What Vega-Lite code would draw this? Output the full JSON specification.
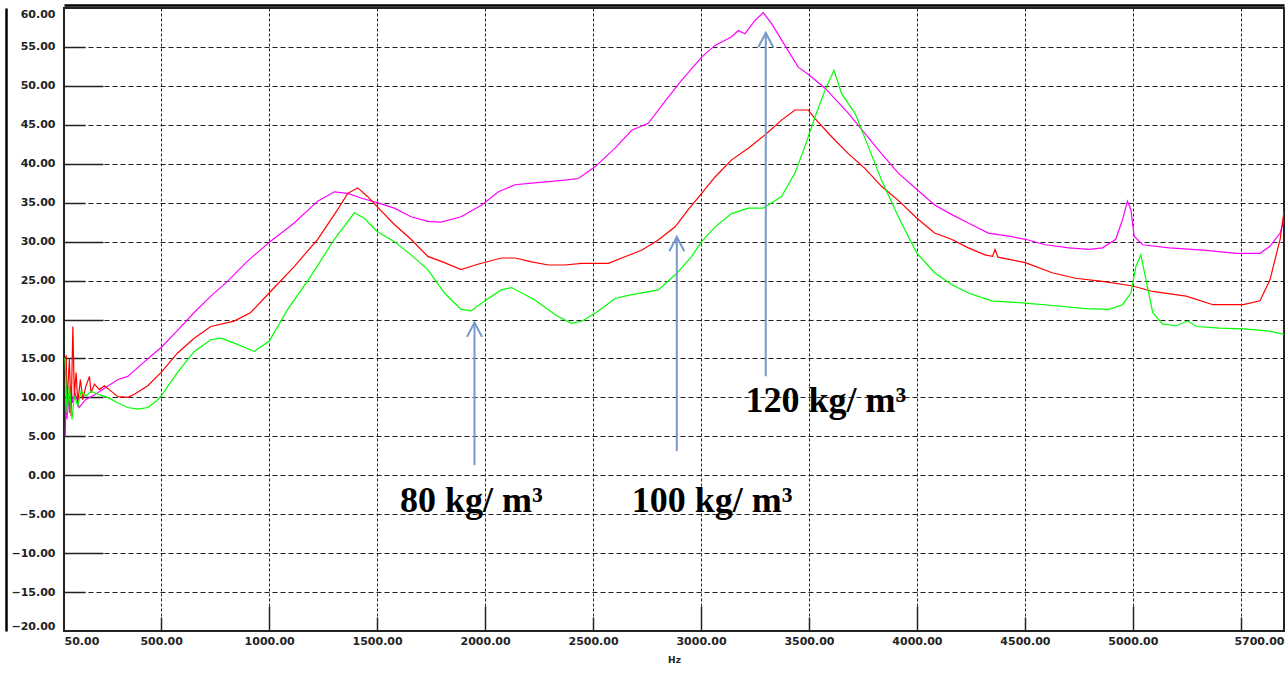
{
  "$schema": "https://vega.github.io/schema/vega-lite/v6.json",
  "width": 1220,
  "height": 623,
  "autosize": "none",
  "padding": {"left": 64, "top": 8, "right": 4, "bottom": 49},
  "background": "white",
  "config": {"view": {"stroke": "#222222", "strokeWidth": 2}, "font": "DejaVu Sans"},
  "resolve": {"axis": {"x": "independent", "y": "independent"}},
  "datasets": {
    "curves": [
      {"f":56,"v":5,"s":"120"},{"f":60,"v":11.5,"s":"120"},{"f":64,"v":7.2,"s":"120"},{"f":70,"v":10.6,"s":"120"},{"f":75,"v":8,"s":"120"},{"f":82,"v":11.5,"s":"120"},{"f":90,"v":9.3,"s":"120"},{"f":100,"v":10.6,"s":"120"},{"f":120,"v":8.7,"s":"120"},{"f":150,"v":9.7,"s":"120"},{"f":190,"v":10.3,"s":"120"},{"f":240,"v":11.2,"s":"120"},{"f":300,"v":12.3,"s":"120"},{"f":346,"v":12.7,"s":"120"},{"f":407,"v":14.2,"s":"120"},{"f":469,"v":15.7,"s":"120"},{"f":500,"v":16.4,"s":"120"},{"f":576,"v":18.6,"s":"120"},{"f":653,"v":20.9,"s":"120"},{"f":730,"v":23,"s":"120"},{"f":807,"v":24.9,"s":"120"},{"f":900,"v":27.5,"s":"120"},{"f":1000,"v":29.9,"s":"120"},{"f":1116,"v":32.4,"s":"120"},{"f":1225,"v":35.2,"s":"120"},{"f":1302,"v":36.4,"s":"120"},{"f":1364,"v":36.2,"s":"120"},{"f":1425,"v":35.6,"s":"120"},{"f":1500,"v":35,"s":"120"},{"f":1580,"v":34.3,"s":"120"},{"f":1657,"v":33.2,"s":"120"},{"f":1735,"v":32.6,"s":"120"},{"f":1796,"v":32.5,"s":"120"},{"f":1889,"v":33.2,"s":"120"},{"f":1985,"v":34.7,"s":"120"},{"f":2062,"v":36.4,"s":"120"},{"f":2139,"v":37.3,"s":"120"},{"f":2216,"v":37.5,"s":"120"},{"f":2293,"v":37.7,"s":"120"},{"f":2370,"v":37.9,"s":"120"},{"f":2432,"v":38.1,"s":"120"},{"f":2509,"v":39.6,"s":"120"},{"f":2602,"v":42,"s":"120"},{"f":2679,"v":44.3,"s":"120"},{"f":2756,"v":45.2,"s":"120"},{"f":2833,"v":48,"s":"120"},{"f":2910,"v":50.7,"s":"120"},{"f":3003,"v":53.7,"s":"120"},{"f":3065,"v":55.2,"s":"120"},{"f":3142,"v":56.3,"s":"120"},{"f":3173,"v":57.1,"s":"120"},{"f":3204,"v":56.7,"s":"120"},{"f":3250,"v":58.4,"s":"120"},{"f":3288,"v":59.4,"s":"120"},{"f":3327,"v":58,"s":"120"},{"f":3373,"v":55.9,"s":"120"},{"f":3450,"v":52.4,"s":"120"},{"f":3501,"v":51.4,"s":"120"},{"f":3574,"v":49.7,"s":"120"},{"f":3682,"v":46.5,"s":"120"},{"f":3759,"v":43.9,"s":"120"},{"f":3836,"v":41.3,"s":"120"},{"f":3914,"v":38.8,"s":"120"},{"f":4000,"v":36.7,"s":"120"},{"f":4082,"v":34.7,"s":"120"},{"f":4160,"v":33.5,"s":"120"},{"f":4238,"v":32.4,"s":"120"},{"f":4331,"v":31.1,"s":"120"},{"f":4424,"v":30.7,"s":"120"},{"f":4502,"v":30.3,"s":"120"},{"f":4595,"v":29.6,"s":"120"},{"f":4703,"v":29.2,"s":"120"},{"f":4797,"v":29,"s":"120"},{"f":4859,"v":29.2,"s":"120"},{"f":4921,"v":30.3,"s":"120"},{"f":4952,"v":32.8,"s":"120"},{"f":4975,"v":35.2,"s":"120"},{"f":4991,"v":34.1,"s":"120"},{"f":5006,"v":30.7,"s":"120"},{"f":5045,"v":29.6,"s":"120"},{"f":5169,"v":29.2,"s":"120"},{"f":5325,"v":28.9,"s":"120"},{"f":5480,"v":28.5,"s":"120"},{"f":5589,"v":28.5,"s":"120"},{"f":5635,"v":29.4,"s":"120"},{"f":5682,"v":31.1,"s":"120"},{"f":5700,"v":32.8,"s":"120"},

      {"f":52,"v":15,"s":"100"},{"f":60,"v":15.3,"s":"100"},{"f":64,"v":9.3,"s":"100"},{"f":75,"v":14.9,"s":"100"},{"f":83,"v":7.6,"s":"100"},{"f":91,"v":19.1,"s":"100"},{"f":98,"v":10.2,"s":"100"},{"f":106,"v":13.2,"s":"100"},{"f":114,"v":9.3,"s":"100"},{"f":126,"v":12.3,"s":"100"},{"f":137,"v":9.7,"s":"100"},{"f":152,"v":11.5,"s":"100"},{"f":168,"v":12.7,"s":"100"},{"f":175,"v":10.6,"s":"100"},{"f":191,"v":11.7,"s":"100"},{"f":214,"v":11,"s":"100"},{"f":237,"v":11.5,"s":"100"},{"f":268,"v":10.8,"s":"100"},{"f":299,"v":10.1,"s":"100"},{"f":346,"v":10,"s":"100"},{"f":376,"v":10.4,"s":"100"},{"f":438,"v":11.5,"s":"100"},{"f":500,"v":13.2,"s":"100"},{"f":576,"v":15.7,"s":"100"},{"f":653,"v":17.6,"s":"100"},{"f":730,"v":19.1,"s":"100"},{"f":838,"v":19.8,"s":"100"},{"f":915,"v":20.9,"s":"100"},{"f":1000,"v":23.4,"s":"100"},{"f":1116,"v":26.8,"s":"100"},{"f":1225,"v":30.3,"s":"100"},{"f":1317,"v":34.1,"s":"100"},{"f":1364,"v":36.2,"s":"100"},{"f":1410,"v":36.9,"s":"100"},{"f":1456,"v":35.8,"s":"100"},{"f":1500,"v":34.5,"s":"100"},{"f":1580,"v":32.2,"s":"100"},{"f":1657,"v":30.3,"s":"100"},{"f":1735,"v":28.1,"s":"100"},{"f":1812,"v":27.3,"s":"100"},{"f":1889,"v":26.4,"s":"100"},{"f":1966,"v":27.1,"s":"100"},{"f":2075,"v":27.9,"s":"100"},{"f":2139,"v":27.9,"s":"100"},{"f":2216,"v":27.4,"s":"100"},{"f":2293,"v":27,"s":"100"},{"f":2370,"v":27,"s":"100"},{"f":2447,"v":27.2,"s":"100"},{"f":2571,"v":27.2,"s":"100"},{"f":2633,"v":27.9,"s":"100"},{"f":2725,"v":28.9,"s":"100"},{"f":2802,"v":30.2,"s":"100"},{"f":2880,"v":31.9,"s":"100"},{"f":2941,"v":34.1,"s":"100"},{"f":3003,"v":36.2,"s":"100"},{"f":3065,"v":38.3,"s":"100"},{"f":3142,"v":40.5,"s":"100"},{"f":3219,"v":42,"s":"100"},{"f":3296,"v":43.7,"s":"100"},{"f":3373,"v":45.6,"s":"100"},{"f":3435,"v":46.9,"s":"100"},{"f":3497,"v":46.9,"s":"100"},{"f":3528,"v":45.8,"s":"100"},{"f":3604,"v":43.5,"s":"100"},{"f":3682,"v":41.3,"s":"100"},{"f":3759,"v":39.4,"s":"100"},{"f":3836,"v":37.1,"s":"100"},{"f":3914,"v":35.3,"s":"100"},{"f":4000,"v":33,"s":"100"},{"f":4082,"v":31.1,"s":"100"},{"f":4160,"v":30.3,"s":"100"},{"f":4238,"v":29.2,"s":"100"},{"f":4315,"v":28.3,"s":"100"},{"f":4350,"v":28.1,"s":"100"},{"f":4362,"v":29,"s":"100"},{"f":4375,"v":28,"s":"100"},{"f":4502,"v":27.3,"s":"100"},{"f":4626,"v":26,"s":"100"},{"f":4735,"v":25.3,"s":"100"},{"f":4859,"v":24.9,"s":"100"},{"f":5000,"v":24.3,"s":"100"},{"f":5092,"v":23.6,"s":"100"},{"f":5247,"v":23,"s":"100"},{"f":5371,"v":21.9,"s":"100"},{"f":5511,"v":21.9,"s":"100"},{"f":5589,"v":22.4,"s":"100"},{"f":5635,"v":25.1,"s":"100"},{"f":5682,"v":30.3,"s":"100"},{"f":5700,"v":33.9,"s":"100"},

      {"f":50,"v":15,"s":"80"},{"f":55,"v":14.9,"s":"80"},{"f":64,"v":8,"s":"80"},{"f":75,"v":11.5,"s":"80"},{"f":87,"v":7.2,"s":"80"},{"f":98,"v":10.2,"s":"80"},{"f":114,"v":8.9,"s":"80"},{"f":129,"v":10.8,"s":"80"},{"f":152,"v":10.2,"s":"80"},{"f":175,"v":10.8,"s":"80"},{"f":206,"v":10.4,"s":"80"},{"f":252,"v":10,"s":"80"},{"f":299,"v":9.3,"s":"80"},{"f":346,"v":8.7,"s":"80"},{"f":392,"v":8.5,"s":"80"},{"f":438,"v":8.7,"s":"80"},{"f":477,"v":9.5,"s":"80"},{"f":500,"v":10.2,"s":"80"},{"f":576,"v":13.2,"s":"80"},{"f":653,"v":15.9,"s":"80"},{"f":730,"v":17.4,"s":"80"},{"f":777,"v":17.6,"s":"80"},{"f":854,"v":16.8,"s":"80"},{"f":931,"v":15.9,"s":"80"},{"f":1000,"v":17.2,"s":"80"},{"f":1086,"v":21.3,"s":"80"},{"f":1194,"v":25.6,"s":"80"},{"f":1302,"v":30.3,"s":"80"},{"f":1395,"v":33.7,"s":"80"},{"f":1441,"v":33,"s":"80"},{"f":1500,"v":31.3,"s":"80"},{"f":1580,"v":30,"s":"80"},{"f":1657,"v":28.3,"s":"80"},{"f":1735,"v":26.4,"s":"80"},{"f":1812,"v":23.4,"s":"80"},{"f":1889,"v":21.3,"s":"80"},{"f":1935,"v":21.1,"s":"80"},{"f":2000,"v":22.4,"s":"80"},{"f":2075,"v":23.8,"s":"80"},{"f":2123,"v":24.1,"s":"80"},{"f":2231,"v":22.5,"s":"80"},{"f":2330,"v":20.5,"s":"80"},{"f":2400,"v":19.5,"s":"80"},{"f":2450,"v":19.8,"s":"80"},{"f":2520,"v":21,"s":"80"},{"f":2602,"v":22.7,"s":"80"},{"f":2679,"v":23.2,"s":"80"},{"f":2802,"v":23.8,"s":"80"},{"f":2887,"v":25.9,"s":"80"},{"f":2957,"v":28.1,"s":"80"},{"f":3003,"v":30,"s":"80"},{"f":3065,"v":31.9,"s":"80"},{"f":3142,"v":33.6,"s":"80"},{"f":3219,"v":34.3,"s":"80"},{"f":3288,"v":34.3,"s":"80"},{"f":3373,"v":35.8,"s":"80"},{"f":3435,"v":38.8,"s":"80"},{"f":3481,"v":42.2,"s":"80"},{"f":3528,"v":46,"s":"80"},{"f":3574,"v":49.4,"s":"80"},{"f":3616,"v":52,"s":"80"},{"f":3651,"v":49,"s":"80"},{"f":3713,"v":46.5,"s":"80"},{"f":3775,"v":42.2,"s":"80"},{"f":3836,"v":37.9,"s":"80"},{"f":3914,"v":33.2,"s":"80"},{"f":4000,"v":28.5,"s":"80"},{"f":4082,"v":26,"s":"80"},{"f":4160,"v":24.5,"s":"80"},{"f":4238,"v":23.4,"s":"80"},{"f":4346,"v":22.4,"s":"80"},{"f":4502,"v":22.1,"s":"80"},{"f":4626,"v":21.8,"s":"80"},{"f":4781,"v":21.4,"s":"80"},{"f":4890,"v":21.3,"s":"80"},{"f":4952,"v":21.9,"s":"80"},{"f":4991,"v":23.4,"s":"80"},{"f":5014,"v":26.8,"s":"80"},{"f":5037,"v":28.3,"s":"80"},{"f":5061,"v":25.1,"s":"80"},{"f":5092,"v":20.9,"s":"80"},{"f":5138,"v":19.4,"s":"80"},{"f":5200,"v":19.2,"s":"80"},{"f":5255,"v":19.8,"s":"80"},{"f":5294,"v":19.1,"s":"80"},{"f":5402,"v":18.9,"s":"80"},{"f":5511,"v":18.8,"s":"80"},{"f":5635,"v":18.5,"s":"80"},{"f":5700,"v":18.1,"s":"80"}
    ],
    "arrows": [
      {"f": 1951, "lo": 1.3, "hi": 19.6},
      {"f": 2888, "lo": 3.1, "hi": 30.6},
      {"f": 3300, "lo": 12.7, "hi": 56.8}
    ],
    "labels": [
      {"f": 1937, "v": -4.74, "t": "80 kg/ m³"},
      {"f": 3052, "v": -4.74, "t": "100 kg/ m³"},
      {"f": 3578, "v": 8.1, "t": "120 kg/ m³"}
    ]
  },
  "layer": [
    {
      "data": {"name": "curves"},
      "mark": {"type": "line", "strokeWidth": 1.2, "clip": true},
      "encoding": {
        "x": {
          "field": "f", "type": "quantitative",
          "scale": {"domain": [50, 5700], "nice": false, "zero": false},
          "axis": {
            "orient": "bottom",
            "values": [50, 500, 1000, 1500, 2000, 2500, 3000, 3500, 4000, 4500, 5000, 5500, 5700],
            "labelExpr": "datum.value == 5500 ? '' : format(datum.value, '.2f')",
            "labelFlush": true, "labelOverlap": false,
            "grid": true, "gridDash": [3, 2], "gridColor": "#222222", "gridWidth": 1,
            "domain": false, "ticks": false, "labelPadding": 4,
            "labelFont": "DejaVu Sans", "labelFontWeight": "bold", "labelFontSize": 11, "labelColor": "#222222",
            "title": "Hz", "titleFont": "DejaVu Sans", "titleFontSize": 9, "titleFontWeight": "bold", "titleColor": "#222222", "titlePadding": 9
          }
        },
        "y": {
          "field": "v", "type": "quantitative",
          "scale": {"domain": [-20, 60], "nice": false, "zero": false},
          "axis": {
            "orient": "left",
            "values": [-20, -15, -10, -5, 0, 5, 10, 15, 20, 25, 30, 35, 40, 45, 50, 55, 60],
            "format": ".2f", "labelFlush": true, "labelOverlap": false,
            "grid": true, "gridDash": [5, 3], "gridColor": "#222222", "gridWidth": 1,
            "domain": false, "ticks": false, "labelPadding": 9,
            "labelFont": "DejaVu Sans", "labelFontWeight": "bold", "labelFontSize": 11, "labelColor": "#222222",
            "title": null
          }
        },
        "color": {
          "field": "s", "type": "nominal",
          "scale": {"domain": ["80", "100", "120"], "range": ["#00ff00", "#ff0000", "#ff00ff"]},
          "legend": null
        }
      }
    },
    {
      "data": {"name": "arrows"},
      "mark": {"type": "rule", "color": "#7799cc", "strokeWidth": 2},
      "encoding": {
        "x": {"field": "f", "type": "quantitative", "axis": {"orient": "bottom", "values": [1000, 2000, 3000, 4000, 5000], "tickSize": -25, "tickWidth": 1.5, "tickColor": "#222222", "labels": false, "grid": false, "domain": false, "title": null}},
        "y": {"field": "lo", "type": "quantitative", "axis": {"orient": "left", "values": [-10, 0, 10, 20, 30, 40, 50], "tickSize": -39, "tickWidth": 1.5, "tickColor": "#222222", "labels": false, "grid": false, "domain": false, "title": null}},
        "y2": {"field": "hi"}
      }
    },
    {
      "data": {"name": "arrows"},
      "mark": {"type": "point", "shape": "M-1,1.9L0,0L1,1.9", "filled": false, "stroke": "#7799cc", "strokeWidth": 2, "size": 225, "opacity": 1},
      "encoding": {
        "x": {"field": "f", "type": "quantitative", "axis": {"orient": "bottom", "values": [500, 1500, 2500, 3500, 4500, 5500], "tickSize": -14, "tickWidth": 1.5, "tickColor": "#222222", "labels": false, "grid": false, "domain": false, "title": null}},
        "y": {"field": "hi", "type": "quantitative", "axis": {"orient": "left", "values": [-15, -5, 5, 15, 25, 35, 45, 55], "tickSize": -21, "tickWidth": 1.5, "tickColor": "#222222", "labels": false, "grid": false, "domain": false, "title": null}}
      }
    },
    {
      "data": {"name": "labels"},
      "mark": {"type": "text", "font": "Liberation Serif", "fontWeight": "bold", "fontSize": 36, "align": "center", "baseline": "alphabetic", "color": "#000000"},
      "encoding": {
        "x": {"field": "f", "type": "quantitative", "axis": {"orient": "top", "offset": 3, "domain": true, "domainWidth": 2.5, "domainColor": "#000000", "ticks": false, "labels": false, "grid": false, "title": null}},
        "y": {"field": "v", "type": "quantitative", "axis": {"orient": "left", "offset": 58, "domain": true, "domainWidth": 2.5, "domainColor": "#000000", "ticks": false, "labels": false, "grid": false, "title": null}},
        "text": {"field": "t"}
      }
    }
  ]
}
